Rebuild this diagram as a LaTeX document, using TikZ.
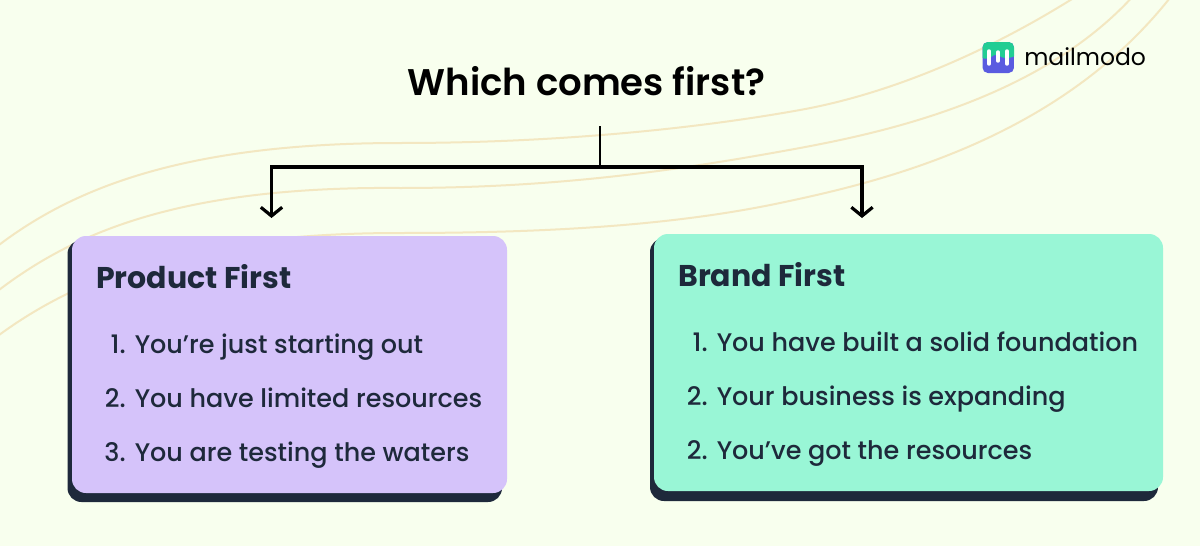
\documentclass[tikz,border=0pt]{standalone}
\usepackage{fontspec}
\setmainfont{Poppins}
\newfontfamily\medf{Poppins Medium}
\newfontfamily\semib{Poppins SemiBold}
\usetikzlibrary{arrows.meta}
\definecolor{bgc}{HTML}{F8FFEE}
\definecolor{wave}{HTML}{F3E7C1}
\definecolor{ink}{HTML}{1E293B}
\definecolor{lilac}{HTML}{D5C3FA}
\definecolor{mint}{HTML}{99F6D6}
\definecolor{logog}{HTML}{22CD93}
\definecolor{logob}{HTML}{5A5BE0}
\tikzset{
  wavecurve/.style={draw=wave,line width=1.5pt},
  panel/.style={rounded corners=10.5pt,inner sep=0pt,minimum width=#1*0.75pt},
  connector/.style={draw=black,line width=2.4pt},
  arrowline/.style={connector,-{Straight Barb[length=6.5pt,width=16pt,line width=2.4pt]}},
  heading/.style={anchor=base west,text=ink,font=\fontsize{22.5}{26}\selectfont\bfseries,inner sep=0pt},
  item/.style={anchor=base west,text=ink,font=\fontsize{19.1}{24}\selectfont\medf,inner sep=0pt},
  num/.style={anchor=base east,text=ink,font=\fontsize{19.1}{24}\selectfont\medf,inner sep=0pt},
}
\begin{document}
\begin{tikzpicture}[x=0.75pt,y=-0.75pt]
\useasboundingbox (0,0) rectangle (1200,546);
\fill[bgc] (0,0) rectangle (1200,546);
% waves
\draw[wavecurve] (-5,248) .. controls (70,190) and (180,143) .. (400,143) .. controls (560,143) and (700,128) .. (800,110) .. controls (900,92) and (1000,45) .. (1080,-6);
\draw[wavecurve] (-5,293) .. controls (70,235) and (175,186) .. (400,188) .. controls (560,188) and (680,170) .. (800,148) .. controls (880,133) and (1040,100) .. (1135,-6);
\draw[wavecurve] (-5,338) .. controls (70,282) and (180,233) .. (400,233) .. controls (560,233) and (680,224) .. (780,203) .. controls (880,182) and (1060,140) .. (1173,-6);
% panels
\node[panel=434.5,minimum height=262*0.75pt,fill=ink] (pshadow) at (284.75,371) {};
\node[panel=435,minimum height=257*0.75pt,fill=lilac] (pbox) at (289.5,364.5) {};
\node[panel=508,minimum height=263*0.75pt,fill=ink] (bshadow) at (904,369.5) {};
\node[panel=509,minimum height=257*0.75pt,fill=mint] (bbox) at (908.5,362.5) {};
% title
\node[anchor=base,inner sep=0pt,text=black,font=\fontsize{27.8}{32}\selectfont\semib] (title) at (586.5,95) {Which comes first?};
% connectors
\coordinate (stem) at (600,126);
\coordinate (junction) at (600,167);
\coordinate (leftend) at (271.5,218);
\coordinate (rightend) at (862,218);
\draw[connector,line width=2.1pt] (stem) -- (junction);
\draw[arrowline] (junction) -| (leftend);
\draw[arrowline] (junction) -| (rightend);
% left text
\node[heading] (ph) at (96,288) {Product First};
\node[num] (p1n) at (126,353) {1.};
\node[item] (p1) at (134.5,353) {You’re just starting out};
\node[num] (p2n) at (126,407) {2.};
\node[item] (p2) at (134.5,407) {You have limited resources};
\node[num] (p3n) at (126,461) {3.};
\node[item] (p3) at (134.5,461) {You are testing the waters};
% right text
\node[heading] (bh) at (678,286) {Brand First};
\node[num] (b1n) at (708,351) {1.};
\node[item] (b1) at (716.5,351) {You have built a solid foundation};
\node[num] (b2n) at (708,405) {2.};
\node[item] (b2) at (716.5,405) {Your business is expanding};
\node[num] (b3n) at (708,459) {2.};
\node[item] (b3) at (716.5,459) {You’ve got the resources};
% logo
\begin{scope}
\clip[rounded corners=4pt] (982.5,42) rectangle (1014,73);
\fill[logob] (982,41) rectangle (1015,74);
\fill[logog] (982,58) .. controls (990,61) and (993,53) .. (998,55) .. controls (1003,59) and (1008,59) .. (1015,56) -- (1015,41) -- (982,41) -- cycle;
\end{scope}
\draw[white,line width=2.6pt,line cap=round] (989,51) -- (989,64);
\draw[white,line width=2.6pt,line cap=round] (998,52) -- (998,61);
\draw[white,line width=2.6pt,line cap=round] (1007,51) -- (1007,64);
\node[anchor=base west,inner sep=0pt,text=black,font=\fontsize{17.6}{22}\selectfont] (logo) at (1024,65) {mailmodo};
\end{tikzpicture}
\end{document}
